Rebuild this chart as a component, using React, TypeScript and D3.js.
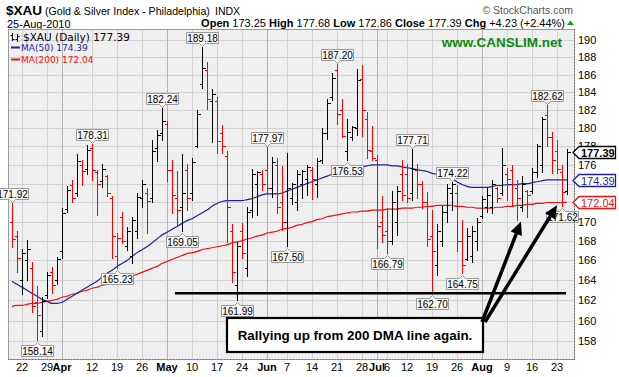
import React from 'react';
import * as d3 from 'd3';

// ---- Data ----
const prevCloseBefore = 170.5;
const opens = [170.0,168.5,164.0,166.0,165.2,161.8,159.0,162.5,164.8,164.0,
167.0,171.3,173.8,173.0,176.0,175.6,177.8,175.2,174.3,174.8,
172.5,166.5,170.5,167.5,166.5,169.0,172.5,173.0,172.5,177.8,
179.5,180.5,175.5,172.5,171.5,175.5,173.0,178.0,185.0,186.5,
183.0,183.0,179.5,177.0,169.0,163.5,169.0,165.2,171.2,174.0,
175.0,175.5,173.5,176.0,172.0,170.0,172.5,172.0,174.0,174.5,
175.5,174.0,176.5,179.5,183.5,186.5,182.0,177.5,179.0,180.0,
185.5,181.0,177.5,176.5,170.0,169.0,168.0,170.0,175.0,175.0,
173.0,175.5,174.0,172.0,168.5,165.5,168.0,171.0,173.0,173.0,
168.0,166.2,166.5,168.0,170.6,171.5,171.5,173.5,173.0,175.0,
175.5,173.5,171.5,173.2,173.2,175.2,176.0,181.5,179.0,177.5,
175.2,173.25];
const highs = [171.92,169.0,167.2,168.1,165.8,163.4,162.3,164.8,165.3,166.4,
171.4,173.7,174.4,177.2,176.5,178.2,178.31,175.5,176.1,174.9,
172.7,168.8,171.0,169.4,170.5,173.0,174.4,173.5,178.7,179.8,
182.24,180.8,176.5,175.4,177.2,176.1,176.8,182.0,189.18,187.5,
184.4,183.5,180.4,177.5,169.8,167.9,169.9,171.5,175.6,175.3,
175.5,177.97,176.9,176.7,175.9,177.3,174.1,175.5,175.5,176.0,
175.8,176.7,180.0,183.3,186.2,187.20,183.3,181.0,180.3,186.6,
187.1,181.8,180.3,177.1,172.7,171.4,173.2,173.7,176.5,176.1,
177.71,176.1,174.3,173.1,171.2,169.7,171.6,174.0,174.22,173.8,
170.2,169.3,169.5,170.4,172.7,173.5,174.4,173.6,177.8,175.7,
176.0,174.4,174.8,173.3,175.7,178.3,181.3,182.62,179.6,178.7,
176.0,177.68];
const lows = [167.4,164.8,162.6,164.0,160.8,158.14,158.5,162.2,162.7,163.6,
166.3,171.0,172.0,172.7,173.9,175.0,174.4,170.7,173.6,172.7,
166.3,165.23,167.8,167.1,165.7,168.3,171.5,168.8,172.0,176.4,
178.7,174.3,170.9,169.5,169.05,171.2,172.3,177.9,184.5,182.1,
178.5,177.3,177.3,167.9,163.8,161.99,166.3,164.4,170.5,170.7,
173.3,172.9,172.6,170.9,169.1,167.50,171.8,171.2,172.5,172.8,
172.4,172.6,176.2,178.8,183.1,180.5,179.0,176.53,178.7,179.3,
179.1,176.7,176.5,167.3,167.9,166.79,167.7,168.6,172.3,172.0,
172.3,172.5,171.4,167.5,162.70,164.5,167.5,170.0,171.2,167.0,
164.75,166.0,165.8,167.1,170.4,171.0,170.9,172.1,172.8,172.3,
171.6,170.2,171.1,170.5,173.0,174.7,175.2,178.0,175.1,175.1,
171.62,172.86];
const closes = [168.2,166.3,166.8,167.2,161.4,160.5,161.9,164.5,163.5,166.1,
170.9,173.3,172.5,176.4,175.4,177.6,175.5,174.0,175.6,173.0,
168.5,168.3,168.0,169.0,170.2,172.6,174.0,172.2,177.5,179.3,
180.8,175.5,172.8,171.2,173.0,172.5,176.3,181.6,186.8,183.2,
183.8,178.6,178.0,171.5,164.8,167.5,166.8,171.0,175.0,175.2,
174.0,173.5,176.3,171.5,170.0,173.5,174.0,175.0,175.3,175.8,
174.5,176.4,179.5,182.8,185.6,181.6,179.2,179.6,180.1,185.4,
182.0,177.6,176.8,169.5,168.6,168.0,172.0,173.2,172.8,172.5,
175.6,174.0,172.0,168.2,167.0,169.0,171.0,173.5,174.0,168.0,
165.5,168.5,169.0,170.0,172.4,172.8,174.0,172.5,176.0,174.5,
174.0,172.5,174.0,172.8,175.2,178.0,181.0,179.0,176.5,175.6,
173.16,177.39];
const ma50 = [163.9,163.6,163.3,163.0,162.7,162.4,162.1,161.9,161.7,161.7,
161.8,162.1,162.4,162.7,163.0,163.3,163.6,163.9,164.3,164.7,
165.0,165.4,165.7,166.0,166.4,166.8,167.1,167.4,167.8,168.2,
168.6,168.9,169.2,169.5,169.8,170.1,170.3,170.6,170.9,171.2,
171.6,171.9,172.1,172.2,172.2,172.2,172.2,172.3,172.4,172.6,
172.8,172.9,172.9,172.9,173.0,173.2,173.4,173.6,173.8,174.0,
174.2,174.4,174.6,174.8,175.0,175.1,175.3,175.4,175.6,175.7,
175.8,175.9,176.0,176.0,176.0,176.0,175.9,175.9,175.8,175.7,
175.6,175.5,175.4,175.3,175.1,175.0,174.9,174.7,174.5,174.2,
173.9,173.7,173.6,173.6,173.6,173.6,173.7,173.8,173.8,173.9,
173.9,173.9,174.0,174.0,174.1,174.2,174.3,174.4,174.4,174.4,
174.4,174.39];
const ma200 = [161.4,161.5,161.5,161.6,161.7,161.7,161.8,161.9,162.0,162.1,
162.3,162.4,162.6,162.7,162.9,163.0,163.2,163.3,163.5,163.6,
163.7,163.8,164.0,164.2,164.4,164.6,164.8,165.0,165.2,165.4,
165.7,165.9,166.1,166.3,166.5,166.7,166.8,166.9,167.1,167.2,
167.3,167.4,167.5,167.6,167.8,167.9,168.0,168.2,168.3,168.5,
168.6,168.8,168.9,169.0,169.2,169.3,169.4,169.6,169.7,169.9,
170.0,170.2,170.3,170.5,170.6,170.7,170.8,170.9,171.0,171.0,
171.1,171.1,171.2,171.2,171.2,171.3,171.3,171.3,171.4,171.4,
171.4,171.5,171.5,171.6,171.6,171.7,171.7,171.7,171.7,171.6,
171.6,171.5,171.5,171.4,171.4,171.4,171.4,171.5,171.5,171.6,
171.6,171.7,171.7,171.8,171.8,171.9,171.9,172.0,172.0,172.0,
172.0,172.04];

const xTickIndex = [2,7,10,16,21,26,31,36,41,46,51,55,60,65,70,73,75,79,84,89,94,99,104,109];
const xTickLabels = ['22','29','Apr','12','19','26','May','10','17','24','Jun','7','14','21','28','Jul','6','12','19','26','Aug','9','16','23'];
const monthLabels = ['Apr','May','Jun','Jul','Aug'];
const yTickValues = [158,160,162,164,166,168,170,172,174,176,178,180,182,184,186,188,190];
// axis labels fully covered by the value tags in the reference
const yHiddenLabels = [172,174];

const highCalloutIdx = [0,16,30,38,51,65,80,88,107];
const lowCalloutIdx = [5,21,34,45,55,67,75,84,90,110];

const supportLevel = 162.7;
const supportFromIdx = 32.6;
const supportToIdx = 110.8;
const arrowTargetIdx = [101.8, 109];
const arrowTargetVal = [170.0, 171.7];

const MA50_COLOR = '#1f1f9a';
const MA200_COLOR = '#f01010';
const FONT = "'Liberation Sans', Arial, sans-serif";
const VFONT = "'DejaVu Sans', Verdana, sans-serif";

export default function App() {
  const W = 619, H = 377;
  const P = { l: 8, r: 574, t: 29, b: 359 };
  const x = d3.scaleLinear().domain([0, 111]).range([12, 567]);
  const y = d3.scaleLog().domain([156.28, 191.28]).range([P.b, P.t]);
  const px = (v: number) => Math.round(v) + 0.5;

  const maLine = (arr: number[]) =>
    d3.line<number>().x((_, i) => x(i)).y((d) => y(d)).curve(d3.curveMonotoneX)(arr) || '';

  const calloutW = 32;
  const highCallout = (i: number) => {
    const cx = px(x(i));
    const yt = y(highs[i]);
    const yb = Math.round(yt - 4) + 0.5;
    const top = yb - 11;
    const x0 = cx - calloutW / 2;
    const x1 = x0 + calloutW;
    return (
      <g key={'h' + i}>
        <path d={`M${x0},${top}H${x1}V${yb}H${cx + 3}L${cx},${yb + 3}L${cx - 3},${yb}H${x0}Z`} fill="#f7f7f7" stroke="#999" strokeWidth={1} />
        <text x={cx} y={yb - 2} textAnchor="middle" fontFamily={FONT} fontSize={10} fill="#000">{highs[i].toFixed(2)}</text>
      </g>
    );
  };
  const lowCallout = (i: number) => {
    const cx = px(x(i));
    const yl = y(lows[i]);
    const yt = Math.round(yl + 5) + 0.5;
    const bot = yt + 11;
    const x0 = cx - calloutW / 2;
    const x1 = x0 + calloutW;
    return (
      <g key={'l' + i}>
        <path d={`M${x0},${yt}H${cx - 3}L${cx},${yt - 3}L${cx + 3},${yt}H${x1}V${bot}H${x0}Z`} fill="#f7f7f7" stroke="#999" strokeWidth={1} />
        <text x={cx} y={bot - 2} textAnchor="middle" fontFamily={FONT} fontSize={10} fill="#000">{lows[i].toFixed(2)}</text>
      </g>
    );
  };

  const tag = (val: number, color: string, bold: boolean, key: string) => {
    const yc = Math.round(y(val)) + 0.5;
    return (
      <g key={key}>
        <path d={`M${P.r - 1},${yc}L${P.r + 5},${yc - 6}H${615.5}V${yc + 6}H${P.r + 5}Z`} fill="#fff" stroke={color} strokeWidth={1.3} />
        <text x={P.r + 7} y={yc + 4} fontFamily={FONT} fontSize={11} fontWeight={bold ? 'bold' : 'normal'} fill={bold ? '#000' : color}>{val.toFixed(2)}</text>
      </g>
    );
  };

  const box = { x: 227, y: 318, w: 256, h: 34 };
  const arrowStart = [
    [box.x + box.w - 1, box.y + 4],
    [box.x + box.w + 2, box.y + 4],
  ];

  return (
    <svg width={W} height={H} style={{ position: 'absolute', left: 0, top: 0, background: '#fff' }}>
      {/* header */}
      <text x={6} y={15} fontFamily={FONT} fontWeight="bold" fontSize={13.5}>$XAU</text>
      <text x={45} y={15} fontFamily={FONT} fontSize={10.6}>(Gold &amp; Silver Index - Philadelphia)</text>
      <text x={215} y={15} fontFamily={FONT} fontSize={10.5}>INDX</text>
      <text x={7} y={27.5} fontFamily={FONT} fontSize={11}>25-Aug-2010</text>
      <text x={573} y={14} textAnchor="end" fontFamily={FONT} fontSize={10.5} fill="#555">© StockCharts.com</text>
      <text x={565} y={26.5} textAnchor="end" fontFamily={FONT} fontSize={11} fill="#000" xmlSpace="preserve">
        <tspan fontWeight="bold">Open</tspan><tspan> 173.25 </tspan>
        <tspan fontWeight="bold">High</tspan><tspan> 177.68 </tspan>
        <tspan fontWeight="bold">Low</tspan><tspan> 172.86 </tspan>
        <tspan fontWeight="bold">Close</tspan><tspan> 177.39 </tspan>
        <tspan fontWeight="bold">Chg</tspan><tspan> +4.23 (+2.44%)</tspan>
      </text>
      <path d="M567,25L570.5,20.5L574,25Z" fill="#1aa01a" />

      {/* plot background */}
      <rect x={P.l + 0.5} y={P.t + 0.5} width={P.r - P.l} height={P.b - P.t} fill="#efefef" stroke="#9a9a9a" />

      {/* grid */}
      {yTickValues.map((v) => (
        <line key={'gy' + v} x1={P.l + 1} x2={P.r} y1={px(y(v))} y2={px(y(v))} stroke="#d2d2d2" />
      ))}
      {xTickIndex.map((ti, k) => (
        <line key={'gx' + k} x1={px(x(ti))} x2={px(x(ti))} y1={P.t + 1} y2={P.b}
          stroke={monthLabels.includes(xTickLabels[k]) ? '#b4b4b4' : '#d2d2d2'} />
      ))}

      {/* legend */}
      <g stroke="#000" strokeWidth={1}>
        <line x1={12.5} x2={12.5} y1={33} y2={41} />
        <line x1={10.5} x2={12.5} y1={35.5} y2={35.5} />
        <line x1={12.5} x2={14.5} y1={39.5} y2={39.5} />
        <line x1={17.5} x2={17.5} y1={34} y2={42} />
        <line x1={15.5} x2={17.5} y1={39.5} y2={39.5} />
        <line x1={17.5} x2={19.5} y1={36.5} y2={36.5} />
      </g>
      <text x={23} y={41} fontFamily={VFONT} fontSize={10.5} fill="#000">$XAU (Daily) 177.39</text>
      <line x1={11} x2={20} y1={47.5} y2={47.5} stroke={MA50_COLOR} strokeWidth={2} />
      <text x={21} y={51} fontFamily={VFONT} fontSize={9} fill={MA50_COLOR}>MA(50) 174.39</text>
      <line x1={11} x2={20} y1={59.5} y2={59.5} stroke={MA200_COLOR} strokeWidth={2} />
      <text x={21} y={63} fontFamily={VFONT} fontSize={9} fill={MA200_COLOR}>MA(200) 172.04</text>

      <text x={562} y={47} textAnchor="end" fontFamily={FONT} fontWeight="bold" fontSize={13.5} fill="#0c8a0c">www.CANSLIM.net</text>

      {/* moving averages */}
      <path d={maLine(ma200)} fill="none" stroke={MA200_COLOR} strokeWidth={1.2} />
      <path d={maLine(ma50)} fill="none" stroke={MA50_COLOR} strokeWidth={1.2} />

      {/* OHLC bars */}
      <g shapeRendering="crispEdges">
        {closes.map((c, i) => {
          const prev = i === 0 ? prevCloseBefore : closes[i - 1];
          const col = c < prev ? '#ff0000' : '#000000';
          const cx = px(x(i));
          const yo = px(y(opens[i]));
          const yc = px(y(c));
          return (
            <g key={'b' + i} stroke={col} strokeWidth={1}>
              <line x1={cx} x2={cx} y1={Math.round(y(highs[i]))} y2={Math.round(y(lows[i])) + 1} />
              <line x1={cx - 3} x2={cx} y1={yo} y2={yo} />
              <line x1={cx} x2={cx + 3} y1={yc} y2={yc} />
            </g>
          );
        })}
      </g>

      {/* support line */}
      <line x1={x(supportFromIdx)} x2={x(supportToIdx)} y1={y(supportLevel)} y2={y(supportLevel)} stroke="#000" strokeWidth={2.6} />

      {/* callouts */}
      {highCalloutIdx.map(highCallout)}
      {lowCalloutIdx.map(lowCallout)}

      {/* borders with ticks */}
      <line x1={P.r + 0.5} x2={P.r + 0.5} y1={P.t} y2={P.b + 1} stroke="#666" strokeDasharray="1,2" />
      <line x1={P.l} x2={P.r + 1} y1={P.b + 0.5} y2={P.b + 0.5} stroke="#666" strokeDasharray="1,2" />

      {/* y axis labels */}
      {yTickValues.filter((v) => !yHiddenLabels.includes(v)).map((v) => (
        <text key={'yl' + v} x={P.r + 4} y={y(v) + 4} fontFamily={FONT} fontSize={11} fill="#000">{v}</text>
      ))}
      {/* x axis labels */}
      {xTickIndex.map((ti, k) => (
        <text key={'xl' + k} x={x(ti)} y={371} textAnchor="middle" fontFamily={FONT} fontSize={11}
          fontWeight={monthLabels.includes(xTickLabels[k]) ? 'bold' : 'normal'} fill="#000">{xTickLabels[k]}</text>
      ))}

      {/* annotation */}
      <rect x={box.x} y={box.y} width={box.w} height={box.h} fill="#fff" stroke="#000" strokeWidth={2.2} />
      <text x={box.x + box.w / 2} y={box.y + 22} textAnchor="middle" fontFamily={FONT} fontWeight="bold" fontSize={13.4}>Rallying up from 200 DMA line again.</text>
      {arrowTargetIdx.map((ti, k) => {
        const [sx, sy] = arrowStart[k];
        const tx = x(ti), ty = y(arrowTargetVal[k]);
        const dx = tx - sx, dy = ty - sy;
        const len = Math.sqrt(dx * dx + dy * dy);
        const ux = dx / len, uy = dy / len;
        const hl = 13, hw = 6;
        const bx = tx - ux * hl, by = ty - uy * hl;
        return (
          <g key={'ar' + k}>
            <line x1={sx} y1={sy} x2={bx} y2={by} stroke="#000" strokeWidth={3.5} />
            <path d={`M${tx},${ty}L${bx - uy * hw},${by + ux * hw}L${bx + uy * hw},${by - ux * hw}Z`} fill="#000" />
          </g>
        );
      })}

      {/* right value tags */}
      {tag(172.04, MA200_COLOR, false, 't200')}
      {tag(174.39, MA50_COLOR, false, 't50')}
      {tag(177.39, '#000', true, 'tc')}
    </svg>
  );
}
